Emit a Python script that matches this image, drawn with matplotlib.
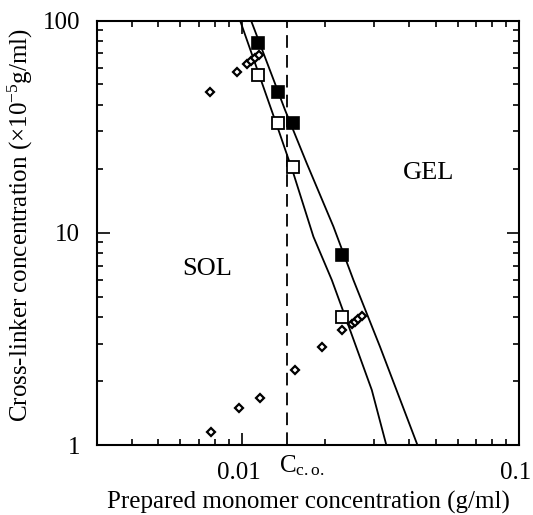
import matplotlib
matplotlib.use("Agg")
import matplotlib.pyplot as plt
import matplotlib.transforms as mtrans
from matplotlib.ticker import LogLocator, NullFormatter, FixedLocator, FixedFormatter

plt.rcParams['font.family'] = ['Liberation Serif', 'DejaVu Serif']
plt.rcParams['mathtext.fontset'] = 'custom'
plt.rcParams['mathtext.rm'] = 'Liberation Serif'
plt.rcParams['mathtext.it'] = 'Liberation Serif:italic'

# Gel point data (filled squares)
filled_x = [0.01143, 0.0135, 0.01534, 0.02294]
filled_y = [78.3, 46.0, 33.0, 7.86]
# Gel point data (open squares)
open_x = [0.01145, 0.01354, 0.01534, 0.02298]
open_y = [55.4, 32.8, 20.3, 4.02]
# Small diamonds (upper branch)
dia_up_x = [0.00767, 0.00963, 0.01044, 0.01079, 0.01116, 0.01153]
dia_up_y = [45.9, 57.0, 62.7, 64.7, 66.9, 69.1]
# Small diamonds (lower branch)
dia_lo_x = [0.00774, 0.00977, 0.01164, 0.01559, 0.01942, 0.02298,
            0.02493, 0.02563, 0.02633, 0.02709]
dia_lo_y = [1.148, 1.49, 1.66, 2.25, 2.90, 3.48, 3.70, 3.81, 3.92, 4.05]
# Boundary curves
lineA_x = [0.01079, 0.01431, 0.01715, 0.02139, 0.02526, 0.03152, 0.0430]
lineA_y = [100, 37.9, 21.2, 10.7, 5.99, 2.90, 1.0]
lineB_x = [0.00985, 0.01347, 0.01534, 0.01812, 0.02111, 0.02457, 0.02943, 0.0332]
lineB_y = [100, 31.2, 19.05, 9.58, 5.99, 3.48, 1.816, 1.0]
# Crossover concentration
CCO = 0.0146

xticks = [0.01, 0.1]
xticklabels = ['0.01', '0.1']
yticks = [1, 10, 100]
yticklabels = ['1', '10', '100']

fig = plt.figure(figsize=(5.33, 5.15), dpi=100)
ax = fig.add_axes([97/533, 70/515, 422/533, 424.5/515])
ax.set_xscale('log')
ax.set_yscale('log')
ax.set_xlim(0.003, 0.1)
ax.set_ylim(1, 100)

ax.plot(lineA_x, lineA_y, color='black', lw=1.3, zorder=2)
ax.plot(lineB_x, lineB_y, color='black', lw=1.3, zorder=2)
ax.axvline(CCO, color='black', lw=1.3, ls=(0, (7, 4)), zorder=1)

ax.plot(dia_up_x, dia_up_y, ls='none', marker='D', ms=4.5, mfc='white',
        mec='black', mew=1.6, zorder=3)
ax.plot(dia_lo_x, dia_lo_y, ls='none', marker='D', ms=4.5, mfc='white',
        mec='black', mew=1.6, zorder=3)
ax.plot(filled_x, filled_y, ls='none', marker='s', ms=9, mfc='black',
        mec='black', mew=1.2, zorder=4)
ax.plot(open_x, open_y, ls='none', marker='s', ms=9, mfc='white',
        mec='black', mew=1.3, zorder=4)

ax.xaxis.set_major_locator(FixedLocator(xticks))
ax.xaxis.set_major_formatter(FixedFormatter(xticklabels))
ax.yaxis.set_major_locator(FixedLocator(yticks))
ax.yaxis.set_major_formatter(FixedFormatter(yticklabels))
ax.xaxis.set_minor_locator(LogLocator(base=10, subs=range(2, 10)))
ax.yaxis.set_minor_locator(LogLocator(base=10, subs=range(2, 10)))
ax.xaxis.set_minor_formatter(NullFormatter())
ax.yaxis.set_minor_formatter(NullFormatter())
ax.tick_params(which='both', direction='in', top=True, right=True, width=1.2,
               labelsize=18)
ax.tick_params(which='major', length=9)
ax.tick_params(which='minor', length=4.5)
ax.tick_params(axis='y', which='major', pad=12)
ax.tick_params(axis='x', which='major', pad=12.5)
for s in ax.spines.values():
    s.set_linewidth(1.5)

# shift x tick labels slightly left as in the reference
shift = mtrans.ScaledTranslation(-3/100, 0, fig.dpi_scale_trans)
for lbl in ax.get_xticklabels():
    lbl.set_transform(lbl.get_transform() + shift)

ax.set_xlabel('Prepared monomer concentration (g/ml)', fontsize=18, labelpad=5)
ax.set_ylabel(r'Cross-linker concentration ($\times$10$^{-5}$g/ml)',
              fontsize=18, labelpad=5.5)
ax.yaxis.label.set_y(0.518)

ax.text(0.785, 0.64, 'GEL', transform=ax.transAxes, fontsize=19, ha='center',
        va='center')
ax.text(0.26, 0.415, 'SOL', transform=ax.transAxes, fontsize=19, ha='center',
        va='center')

trans = mtrans.blended_transform_factory(ax.transData, ax.transAxes)
trans = trans + mtrans.ScaledTranslation(-8/100, 0, fig.dpi_scale_trans)
ax.text(CCO, -0.02, r'C$_{\rm c.o.}$', transform=trans, fontsize=18,
        ha='left', va='top')

fig.savefig('out.png', dpi=100)
